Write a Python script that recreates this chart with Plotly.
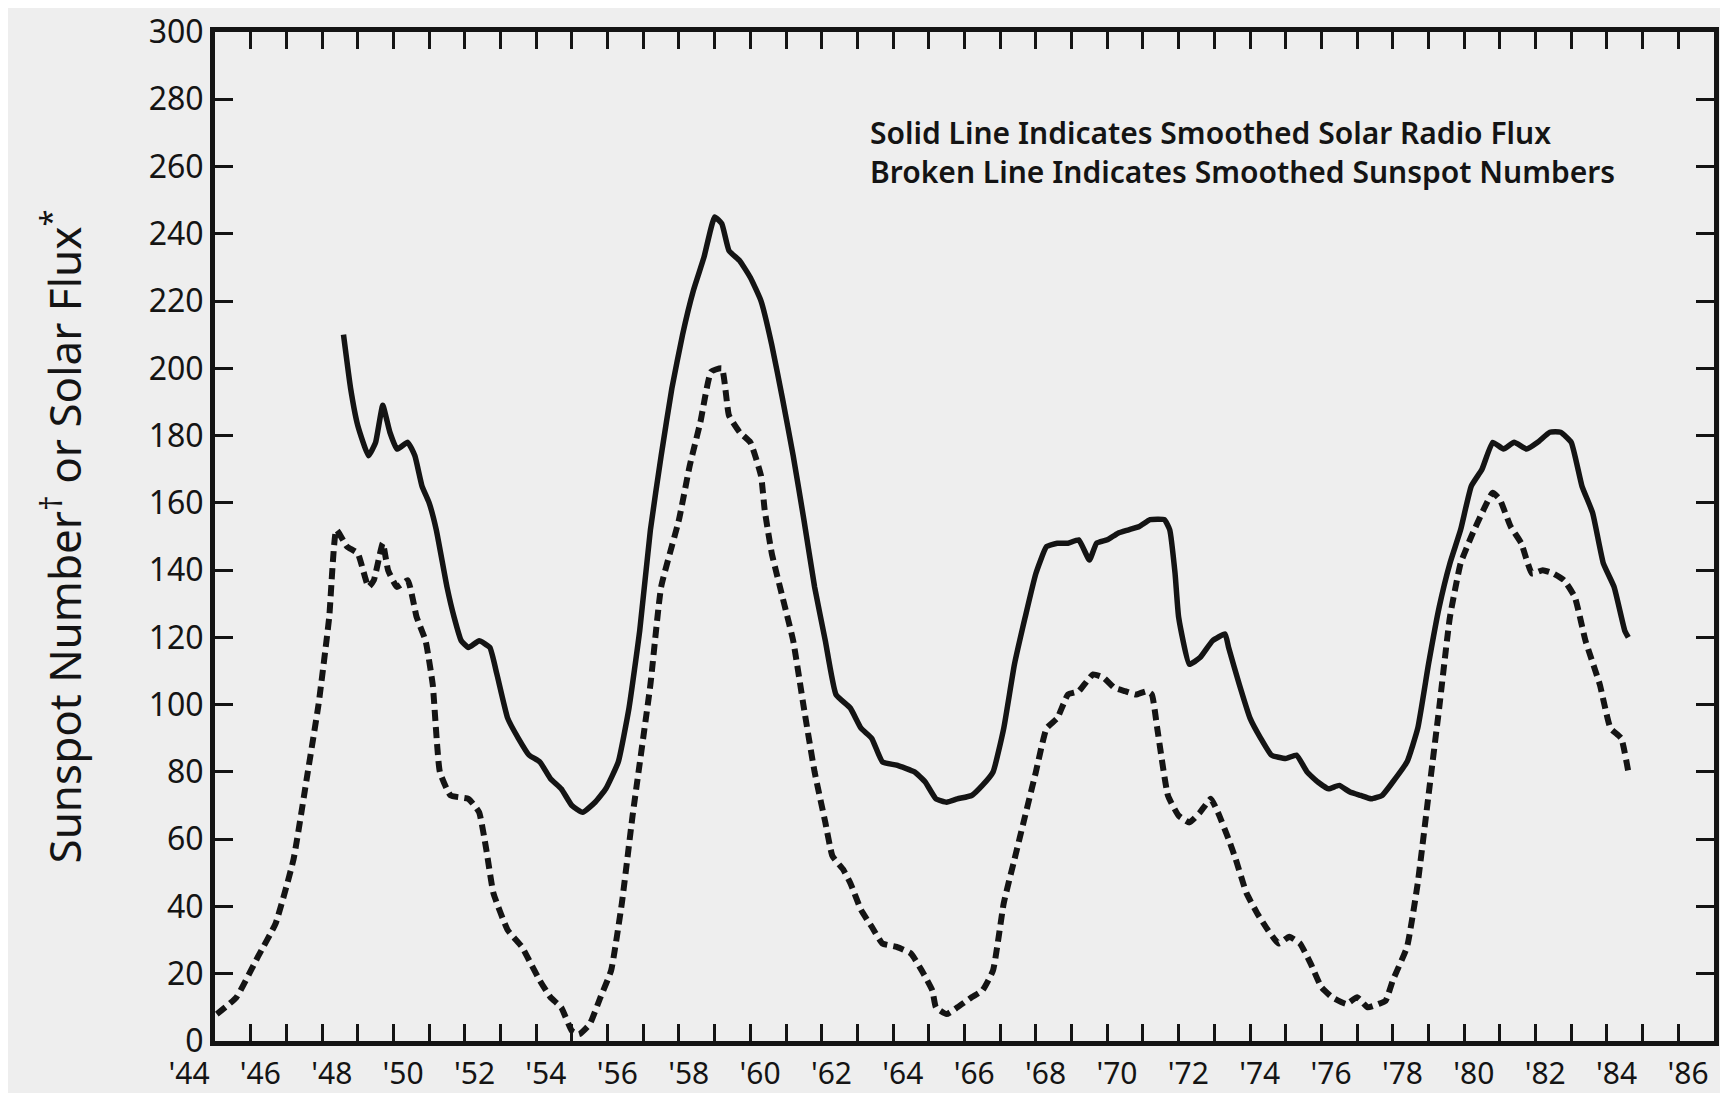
import plotly.graph_objects as go

# Utjevnet solfluks (heltrukken linje)
flux_year = [1947.6, 1947.8, 1948.0, 1948.3, 1948.5, 1948.7, 1948.9, 1949.1, 1949.4, 1949.6,
             1949.8, 1950.0, 1950.2, 1950.5, 1950.7, 1950.9, 1951.1, 1951.4, 1951.7, 1951.9,
             1952.2, 1952.5, 1952.8, 1953.1, 1953.4, 1953.7, 1954.0, 1954.3, 1954.65, 1954.95,
             1955.3, 1955.6, 1955.9, 1956.2, 1956.5, 1956.8, 1957.1, 1957.4, 1957.7, 1958.0,
             1958.2, 1958.4, 1958.7, 1959.0, 1959.3, 1959.6, 1959.9, 1960.2, 1960.5, 1960.8,
             1961.1, 1961.4, 1961.8, 1962.1, 1962.4, 1962.7, 1963.1, 1963.6, 1963.9, 1964.2,
             1964.5, 1964.8, 1965.2, 1965.5, 1965.8, 1966.1, 1966.4, 1966.7, 1967.0, 1967.3,
             1967.6, 1967.9, 1968.2, 1968.5, 1968.7, 1969.0, 1969.3, 1969.6, 1969.9, 1970.2,
             1970.6, 1970.75, 1970.9, 1971.0, 1971.3, 1971.6, 1971.95, 1972.3, 1972.4, 1972.7,
             1973.0, 1973.3, 1973.6, 1974.0, 1974.3, 1974.6, 1974.9, 1975.2, 1975.5, 1975.8,
             1976.1, 1976.4, 1976.7, 1977.0, 1977.4, 1977.7, 1978.0, 1978.3, 1978.6, 1978.9,
             1979.2, 1979.5, 1979.8, 1980.1, 1980.4, 1980.75, 1981.06, 1981.4, 1981.7, 1982.0,
             1982.3, 1982.6, 1982.9, 1983.2, 1983.5, 1983.6]
flux_value = [210, 194, 183, 174, 178, 189, 181, 176, 178, 174,
              165, 160, 152, 135, 126, 119, 117, 119, 117, 109,
              96, 90, 85, 83, 78, 75, 70, 68, 71, 75,
              83, 99, 122, 152, 174, 194, 210, 223, 233, 245,
              243, 235, 232, 227, 220, 207, 191, 174, 155, 135,
              119, 103, 99, 93, 90, 83, 82, 80, 77, 72,
              71, 72, 73, 76, 80, 93, 112, 126, 139, 147,
              148, 148, 149, 143, 148, 149, 151, 152, 153, 155,
              155, 152, 139, 126, 112, 114, 119, 121, 117, 106,
              96, 90, 85, 84, 85, 80, 77, 75, 76, 74,
              73, 72, 73, 77, 83, 93, 112, 129, 142, 152,
              165, 170, 178, 176, 178, 176, 178, 181, 181, 178,
              165, 157, 142, 135, 122, 120]

# Utjevnede solflekktall (stiplet linje)
ssn_year = [1944.05, 1944.6, 1945.2, 1945.7, 1946.2, 1946.6, 1946.9, 1947.2, 1947.4, 1947.7,
            1948.0, 1948.3, 1948.45, 1948.7, 1948.85, 1949.1, 1949.4, 1949.65, 1949.9, 1950.1,
            1950.3, 1950.6, 1951.1, 1951.4, 1951.6, 1951.8, 1952.2, 1952.6, 1952.8, 1953.1,
            1953.4, 1953.7, 1954.0, 1954.2, 1954.5, 1954.8, 1955.1, 1955.4, 1955.7, 1956.2,
            1956.5, 1957.0, 1957.3, 1957.6, 1957.9, 1958.2, 1958.4, 1958.7, 1959.0, 1959.3,
            1959.4, 1959.6, 1959.9, 1960.2, 1960.5, 1960.8, 1961.1, 1961.3, 1961.6, 1961.8,
            1962.1, 1962.4, 1962.7, 1963.1, 1963.5, 1963.8, 1964.1, 1964.2, 1964.5, 1964.8,
            1965.2, 1965.5, 1965.8, 1966.1, 1966.4, 1966.7, 1967.0, 1967.3, 1967.6, 1967.9,
            1968.2, 1968.6, 1968.9, 1969.2, 1969.5, 1969.8, 1970.1, 1970.25, 1970.4, 1970.7,
            1971.0, 1971.3, 1971.6, 1971.9, 1972.1, 1972.4, 1972.6, 1972.9, 1973.2, 1973.5,
            1973.8, 1974.1, 1974.4, 1974.7, 1975.0, 1975.3, 1975.7, 1976.0, 1976.3, 1976.6,
            1976.8, 1977.0, 1977.4, 1977.7, 1978.0, 1978.3, 1978.6, 1978.9, 1979.2, 1979.5,
            1979.8, 1980.0, 1980.3, 1980.6, 1980.9, 1981.2, 1981.5, 1981.8, 1982.1, 1982.4,
            1982.8, 1983.1, 1983.4, 1983.6]
ssn_value = [8, 13, 25, 35, 54, 80, 100, 126, 152, 147,
             145, 135, 137, 148, 140, 135, 137, 126, 119, 106,
             80, 73, 72, 68, 57, 44, 33, 28, 24, 18,
             13, 10, 3, 2, 5, 13, 21, 41, 67, 106,
             135, 155, 171, 184, 199, 200, 186, 181, 178, 168,
             158, 145, 132, 119, 99, 80, 65, 55, 51, 47,
             39, 34, 29, 28, 26, 21, 15, 10, 8, 10,
             13, 15, 21, 41, 54, 67, 80, 93, 96, 103,
             104, 109, 108, 105, 104, 103, 104, 103, 93, 73,
             67, 65, 68, 72, 68, 60, 54, 44, 38, 33,
             29, 31, 29, 23, 16, 13, 11, 13, 10, 11,
             12, 18, 28, 47, 73, 99, 126, 142, 150, 157,
             163, 161, 153, 148, 139, 140, 139, 137, 132, 119,
             106, 93, 90, 80]

tick_years = list(range(1944, 1987, 2))
tick_text = ["'%02d" % (y % 100) for y in tick_years]
y_ticks = list(range(0, 301, 20))

INK = "#141414"
FONT = "Noto Sans"

fig = go.Figure()

# Solflekktall - stiplet
fig.add_trace(go.Scatter(
    x=ssn_year, y=ssn_value,
    mode="lines",
    line=dict(color=INK, width=6, dash="11px,6px", shape="spline", smoothing=0.4),
    showlegend=False, hoverinfo="skip"
))

# Radiofluks - heltrukken
fig.add_trace(go.Scatter(
    x=flux_year, y=flux_value,
    mode="lines",
    line=dict(color=INK, width=5.5, shape="spline", smoothing=0.4),
    showlegend=False, hoverinfo="skip"
))

# Forklaring oppe til høyre
fig.add_annotation(
    x=0.4356, y=0.881, xref="paper", yref="paper",
    xanchor="left", yanchor="middle", align="left",
    text="Solid Line Indicates Smoothed Solar Radio Flux<br>"
         "Broken Line Indicates Smoothed Sunspot Numbers",
    showarrow=False,
    font=dict(family=FONT, size=30, color=INK, weight=600)
)

# siden har 8 px marg rundt figuren
fig.update_layout(
    width=1712, height=1085,
    showlegend=False,
    plot_bgcolor="#eeeeee",
    paper_bgcolor="#eeeeee",
    margin=dict(l=207, r=6, t=24, b=52),
    font=dict(family=FONT, color=INK),
    xaxis=dict(
        range=[1944, 1986],
        tickvals=tick_years, ticktext=tick_text,
        ticks="inside", ticklen=17, tickwidth=3, tickcolor=INK,
        minor=dict(dtick=1, tick0=1944, ticks="inside", ticklen=17,
                   tickwidth=3, tickcolor=INK),
        showline=True, linewidth=5, linecolor=INK, mirror="ticks",
        showgrid=False, zeroline=False,
        tickfont=dict(size=30, color=INK),
        ticklabelshift=-26,
        ticklabelstandoff=2,
        ticklabeloverflow="allow",
        automargin=False,
    ),
    yaxis=dict(
        range=[0, 300],
        tickvals=y_ticks,
        ticks="inside", ticklen=18, tickwidth=3, tickcolor=INK,
        showline=True, linewidth=5, linecolor=INK, mirror="ticks",
        showgrid=False, zeroline=False,
        tickfont=dict(size=32, color=INK),
        ticklabelstandoff=0,
        ticklabeloverflow="allow",
        automargin=False,
        title=dict(
            text="Sunspot Number<sup>†</sup> or Solar Flux<sup>*</sup>",
            font=dict(size=44, color=INK),
            standoff=55,
        ),
    ),
)

fig.write_html("out.html")
